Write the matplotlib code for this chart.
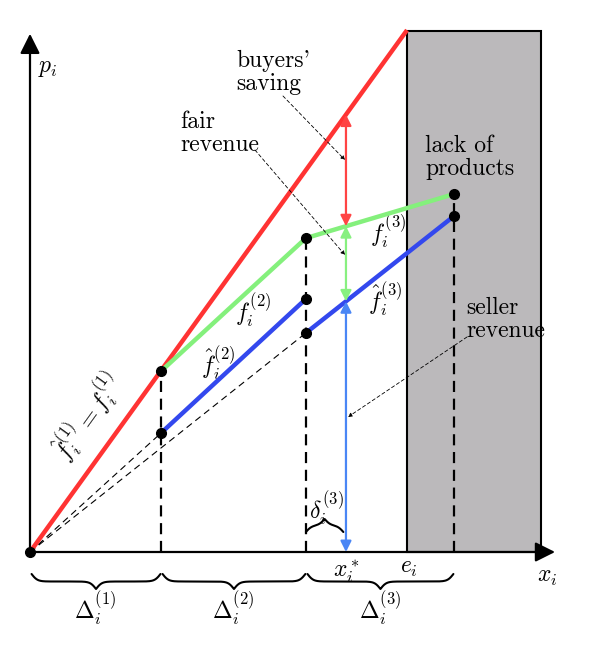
import matplotlib

matplotlib.use("Agg")
import matplotlib.pyplot as plt
import numpy as np
from matplotlib.patches import Rectangle

plt.rcParams["mathtext.fontset"] = "cm"
plt.rcParams["font.family"] = "cmr10"
plt.rcParams["axes.formatter.use_mathtext"] = True

# values (arbitrary units, same scale on both axes)
delta_edges = [0.0, 5.0, 10.53, 16.18]
red_x = [0.0, 14.39]
red_y = [0.0, 19.92]
green_x = [5.0, 10.53, 16.18]
green_y = [6.9, 11.98, 13.66]
blue2_x = [5.0, 10.53]
blue2_y = [4.54, 9.66]
blue3_x = [10.53, 16.18]
blue3_y = [8.36, 12.82]
e_i = 14.39
x_star = 12.06
box_right = 19.5
box_top = 19.89
x_axis_end = 20.04
y_axis_end = 19.78

RED = "#ff3333"
GREEN = "#84f07c"
BLUE = "#3348ee"
LBLUE = "#4a86f5"

S = 26.2  # px per unit


def px(x, y):
    # pixel position in the 608x645 picture -> data coords
    return (x - 30) / S, (552 - y) / S


def brace(ax, x0, x1, y0, h, beta=9.0):
    half = np.linspace(0, (x1 - x0) / 2, 200)
    yh = 1 / (1 + np.exp(-beta * (half - half[0]))) + 1 / (1 + np.exp(-beta * (half - half[-1])))
    yh = yh - yh[0]
    yh = yh / yh[-1]
    xs = np.concatenate([x0 + half, x1 - half[-2::-1]])
    ys = np.concatenate([yh, yh[-2::-1]])
    ax.plot(xs, y0 + h * ys, color="black", lw=1.5, solid_capstyle="round")


def arrow2(ax, x, ya, yb, color):
    ax.annotate("", xy=(x, yb), xytext=(x, ya),
                arrowprops=dict(arrowstyle="<|-|>", color=color, lw=1.6,
                                mutation_scale=16, shrinkA=0, shrinkB=0), zorder=6)


def note(ax, txy, axy):
    ax.annotate("", xy=axy, xytext=txy,
                arrowprops=dict(arrowstyle="-|>", color="black", lw=0.6, ls=(0, (4, 3)),
                                mutation_scale=6, shrinkA=0, shrinkB=0), zorder=7)


fig = plt.figure(figsize=(6.08, 6.45), dpi=100)
ax = fig.add_axes([0, 0, 1, 1])
ax.set_xlim(-30 / S, 578 / S)
ax.set_ylim(-93 / S, 552 / S)
ax.axis("off")

# lack of products region
ax.add_patch(Rectangle((e_i, 0), box_right - e_i, box_top, facecolor="#bbb9bb",
                       edgecolor="black", lw=1.5, zorder=1))

# axes
for end in [(x_axis_end, 0), (0, y_axis_end)]:
    ax.annotate("", xy=end, xytext=(0, 0),
                arrowprops=dict(arrowstyle="-|>,head_length=0.5,head_width=0.25", color="black",
                                lw=1.6, mutation_scale=24, shrinkA=0, shrinkB=0), zorder=3)

# thin dashed rays from origin
ax.plot([0, blue2_x[0]], [0, blue2_y[0]], color="black", lw=0.8, ls=(0, (6, 4)), zorder=2)
ax.plot([0, blue3_x[0]], [0, blue3_y[0]], color="black", lw=0.8, ls=(0, (6, 4)), zorder=2)

# dashed verticals
for xv, yv in zip(green_x, green_y):
    ax.plot([xv, xv], [0, yv], color="black", lw=1.6, ls=(0, (5, 3)), zorder=2)

# curves
ax.plot(red_x, red_y, color=RED, lw=3.2, zorder=4, solid_capstyle="butt")
ax.plot(green_x, green_y, color=GREEN, lw=3.2, zorder=4, solid_capstyle="butt")
ax.plot(blue2_x, blue2_y, color=BLUE, lw=3.2, zorder=4, solid_capstyle="butt")
ax.plot(blue3_x, blue3_y, color=BLUE, lw=3.2, zorder=4, solid_capstyle="butt")

pts_x = [0, green_x[0], blue2_x[0], green_x[1], blue2_x[1], blue3_x[0], green_x[2], blue3_x[1]]
pts_y = [0, green_y[0], blue2_y[0], green_y[1], blue2_y[1], blue3_y[0], green_y[2], blue3_y[1]]
ax.plot(pts_x, pts_y, "o", color="black", ms=7, zorder=8)

# arrows at x*
y_red = np.interp(x_star, red_x, red_y)
y_green = np.interp(x_star, green_x, green_y)
y_blue = np.interp(x_star, blue3_x, blue3_y)
arrow2(ax, x_star, y_green, y_red, "#ff4444")
arrow2(ax, x_star, y_blue, y_green, "#88f080")
arrow2(ax, x_star, 0, y_blue, LBLUE)

# annotation leaders
note(ax, px(283, 96), px(345, 160))
note(ax, px(255, 150), px(345, 255))
note(ax, px(467, 337), px(348, 417))

fs = 17
ax.text(*px(236, 72), "buyers'\nsaving", fontsize=fs, ha="left", va="center", linespacing=1.05)
ax.text(*px(180, 133), "fair\nrevenue", fontsize=fs, ha="left", va="center", linespacing=1.05)
ax.text(*px(425, 157), "lack of\nproducts", fontsize=fs, ha="left", va="center", linespacing=1.05)
ax.text(*px(466, 319), "seller\nrevenue", fontsize=fs, ha="left", va="center", linespacing=1.05)

ax.text(*px(48, 68), r"$p_i$", fontsize=fs, ha="center", va="center")
ax.text(*px(388, 232), r"$f_i^{(3)}$", fontsize=fs, ha="center", va="center")
ax.text(*px(385, 300), r"$\hat{f}_i^{(3)}$", fontsize=fs, ha="center", va="center")
ax.text(*px(253, 311), r"$f_i^{(2)}$", fontsize=fs, ha="center", va="center")
ax.text(*px(218, 364), r"$\hat{f}_i^{(2)}$", fontsize=fs, ha="center", va="center")
ax.text(*px(88, 417), r"$\hat{f}_i^{(1)} = f_i^{(1)}$", fontsize=fs, ha="center", va="center",
        rotation=np.degrees(np.arctan2(red_y[1], red_x[1])), rotation_mode="anchor")
ax.text(*px(326, 509), r"$\delta_i^{(3)}$", fontsize=fs, ha="center", va="center")
ax.text(*px(347, 572), r"$x_i^*$", fontsize=fs, ha="center", va="center")
ax.text(*px(409, 568), r"$e_i$", fontsize=fs, ha="center", va="center")
ax.text(*px(547, 577), r"$x_i$", fontsize=fs, ha="center", va="center")

# braces under the x axis
for k in range(3):
    brace(ax, delta_edges[k] + 0.06, delta_edges[k + 1] - 0.02, -22 / S, -15 / S)
    ax.text((delta_edges[k] + delta_edges[k + 1]) / 2, -57 / S, r"$\Delta_i^{(%d)}$" % (k + 1),
            fontsize=fs, ha="center", va="center")
brace(ax, green_x[1], x_star - 0.1, 20 / S, 13 / S)

fig.savefig("out.png", dpi=100)
